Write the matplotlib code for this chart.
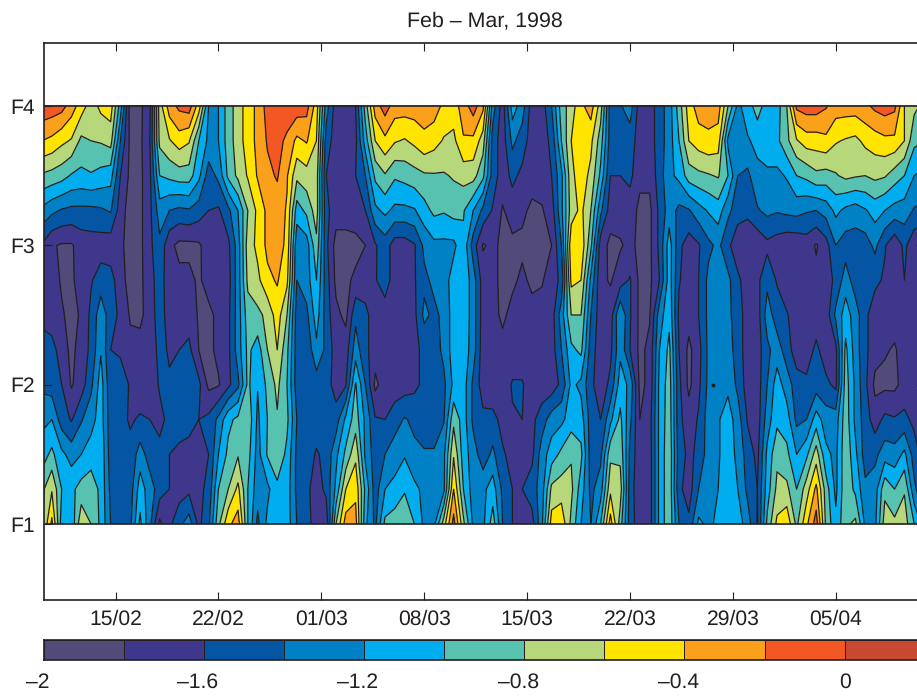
import numpy as np
import matplotlib
matplotlib.use("Agg")
import matplotlib.pyplot as plt

plt.rcParams['font.family'] = ['Liberation Sans', 'DejaVu Sans']
plt.rcParams['text.hinting'] = 'no_hinting'

W, H = 917, 696
INK = '#231f20'

title = 'Feb – Mar, 1998'
# day numbers counted from 1 February; one column every two thirds of a day
days = 10 + np.arange(91) * 2 / 3
levels_f = [1, 1.25, 1.5, 1.75, 2, 2.25, 2.5, 2.75, 3, 3.25, 3.5, 3.75, 4]
x_tick_days = [15, 22, 29, 36, 43, 50, 57, 64]
x_tick_labels = ['15/02', '22/02', '01/03', '08/03', '15/03', '22/03', '29/03', '05/04']
y_ticks = [1, 2, 3, 4]
y_tick_labels = ['F1', 'F2', 'F3', 'F4']
levels = [-2, -1.8, -1.6, -1.4, -1.2, -1, -0.8, -0.6, -0.4, -0.2, 0, 0.2]
bar_ticks = [-2, -1.6, -1.2, -0.8, -0.4, 0]
bar_labels = ['–2', '–1.6', '–1.2', '–0.8', '–0.4', '0']
colors = ['#524a79', '#3e378b', '#0455a4', '#0081c6', '#00aeef', '#57c2b0',
          '#b7d77b', '#ffe400', '#faa01a', '#f35822', '#c84930']

row_f400 = [-0.05,-0.08,-0.12,-0.3,-0.5,-0.7,-0.55,-0.5,-1.1,-1.9,
 -1.85,-1.65,-0.7,-0.3,-0.15,-0.1,-0.5,-1.2,-1.2,-0.9,
 -0.7,-0.5,-0.35,-0.12,-0.08,-0.05,-0.08,-0.12,-0.5,-1.3,
 -1.7,-1.7,-1.6,-0.9,-0.3,-0.1,-0.3,-0.3,-0.3,-0.3,
 -0.3,-0.45,-0.5,-0.3,-0.1,-0.35,-1.3,-1.7,-1.1,-1.3,
 -1.7,-1.7,-1.4,-0.9,-0.7,-0.45,-0.3,-0.7,-1.5,-1.42,
 -1.3,-1.7,-1.7,-1.5,-1.3,-0.9,-0.5,-0.3,-0.3,-0.3,
 -0.8,-1.25,-1.1,-0.9,-1.1,-1.1,-0.8,-0.15,-0.1,-0.1,
 -0.18,-0.3,-0.3,-0.3,-0.25,-0.15,-0.1,-0.15,-0.6,-0.75,-0.85]
row_f375 = [-0.4,-0.45,-0.55,-0.62,-0.85,-0.8,-0.78,-0.72,-1.4,-1.85,
 -1.85,-1.6,-0.75,-0.62,-0.5,-0.58,-1.0,-1.25,-1.2,-0.9,
 -0.7,-0.5,-0.35,-0.18,-0.12,-0.25,-0.45,-0.38,-0.6,-1.5,
 -1.7,-1.7,-1.65,-1.1,-0.6,-0.45,-0.58,-0.62,-0.55,-0.45,
 -0.52,-0.62,-0.65,-0.42,-0.45,-0.7,-1.5,-1.7,-1.35,-1.5,
 -1.7,-1.7,-1.55,-1.0,-0.6,-0.42,-0.55,-0.9,-1.5,-1.55,
 -1.5,-1.7,-1.7,-1.5,-1.3,-1.0,-0.6,-0.5,-0.45,-0.5,
 -1.25,-1.25,-1.22,-1.15,-1.05,-1.05,-0.85,-0.62,-0.5,-0.5,
 -0.45,-0.58,-0.62,-0.65,-0.55,-0.5,-0.45,-0.45,-0.6,-0.95,-1.0]
row_f350 = [-0.83,-0.87,-0.92,-1.02,-1.05,-1.02,-1.07,-1.12,-1.6,-1.85,
 -1.85,-1.65,-1.0,-0.95,-0.9,-0.9,-1.15,-1.5,-1.35,-0.95,
 -0.75,-0.58,-0.38,-0.25,-0.18,-0.38,-0.75,-0.68,-0.7,-1.6,
 -1.7,-1.7,-1.6,-1.4,-0.95,-0.82,-0.97,-0.93,-0.88,-0.83,
 -0.82,-0.82,-0.78,-0.72,-0.72,-0.95,-1.5,-1.7,-1.55,-1.65,
 -1.7,-1.7,-1.6,-1.25,-0.65,-0.5,-0.65,-1.05,-1.6,-1.6,
 -1.55,-1.75,-1.75,-1.5,-1.25,-1.15,-0.9,-0.85,-0.82,-0.78,
 -1.0,-1.4,-1.45,-1.25,-1.25,-1.25,-1.18,-1.0,-0.95,-0.85,
 -0.88,-0.82,-0.75,-0.78,-0.8,-0.75,-0.78,-0.9,-1.0,-1.2,-1.25]
row_f325 = [-1.25,-1.35,-1.42,-1.45,-1.45,-1.45,-1.43,-1.38,-1.7,-1.9,
 -1.85,-1.65,-1.3,-1.4,-1.45,-1.42,-1.5,-1.6,-1.63,-1.45,
 -1.2,-0.8,-0.55,-0.35,-0.3,-0.42,-1.1,-0.95,-0.7,-1.55,
 -1.7,-1.7,-1.65,-1.6,-1.25,-1.15,-1.25,-1.25,-1.22,-1.08,
 -0.95,-0.98,-0.92,-0.98,-1.2,-1.45,-1.62,-1.82,-1.7,-1.75,
 -1.85,-1.82,-1.7,-1.25,-0.7,-0.55,-0.8,-1.35,-1.7,-1.72,
 -1.7,-1.85,-1.85,-1.55,-1.3,-1.45,-1.42,-1.28,-1.18,-1.1,
 -1.35,-1.5,-1.55,-1.42,-1.35,-1.38,-1.35,-1.33,-1.38,-1.4,
 -1.32,-1.15,-1.25,-1.3,-1.22,-1.12,-1.2,-1.28,-1.3,-1.42,-1.45]
row_f300 = [-1.62,-1.78,-1.82,-1.82,-1.72,-1.7,-1.7,-1.72,-1.75,-1.9,
 -1.85,-1.65,-1.45,-1.75,-1.85,-1.85,-1.83,-1.7,-1.75,-1.65,
 -1.3,-0.7,-0.55,-0.35,-0.3,-0.45,-1.35,-1.3,-0.85,-1.55,
 -1.88,-1.88,-1.88,-1.8,-1.62,-1.5,-1.7,-1.7,-1.62,-1.35,
 -1.25,-1.25,-1.25,-1.05,-1.5,-1.82,-1.75,-1.85,-1.85,-1.85,
 -1.88,-1.88,-1.8,-1.4,-0.45,-0.45,-0.95,-1.7,-1.85,-1.82,
 -1.75,-1.85,-1.85,-1.55,-1.1,-1.55,-1.7,-1.62,-1.45,-1.35,
 -1.55,-1.75,-1.75,-1.75,-1.65,-1.7,-1.75,-1.75,-1.7,-1.82,
 -1.68,-1.4,-1.5,-1.5,-1.5,-1.35,-1.58,-1.75,-1.55,-1.75,-1.8]
row_f275 = [-1.7,-1.72,-1.82,-1.82,-1.75,-1.62,-1.5,-1.52,-1.72,-1.88,
 -1.85,-1.68,-1.5,-1.72,-1.75,-1.75,-1.83,-1.72,-1.78,-1.68,
 -1.3,-0.75,-0.65,-0.45,-0.38,-0.55,-1.4,-1.3,-1.0,-1.5,
 -1.85,-1.85,-1.75,-1.7,-1.62,-1.48,-1.72,-1.72,-1.62,-1.45,
 -1.35,-1.3,-1.1,-1.05,-1.3,-1.7,-1.75,-1.85,-1.85,-1.75,
 -1.85,-1.82,-1.7,-1.55,-0.55,-0.6,-1.25,-1.75,-1.82,-1.7,
 -1.58,-1.85,-1.85,-1.6,-1.1,-1.58,-1.72,-1.6,-1.35,-1.3,
 -1.35,-1.55,-1.72,-1.65,-1.45,-1.62,-1.75,-1.75,-1.75,-1.75,
 -1.7,-1.55,-1.3,-1.5,-1.55,-1.55,-1.63,-1.7,-1.6,-1.7,-1.7]
row_f250 = [-1.65,-1.72,-1.78,-1.85,-1.78,-1.55,-1.28,-1.5,-1.65,-1.82,
 -1.85,-1.7,-1.5,-1.7,-1.7,-1.7,-1.82,-1.85,-1.75,-1.65,
 -1.3,-0.9,-0.85,-0.75,-0.5,-0.8,-1.5,-1.45,-1.1,-1.5,
 -1.75,-1.85,-1.45,-1.55,-1.7,-1.72,-1.72,-1.72,-1.65,-1.35,
 -1.45,-1.35,-1.1,-1.05,-1.3,-1.7,-1.72,-1.85,-1.72,-1.72,
 -1.72,-1.72,-1.7,-1.3,-0.8,-0.8,-1.4,-1.72,-1.7,-1.2,
 -1.58,-1.85,-1.82,-1.3,-1.05,-1.65,-1.72,-1.6,-1.35,-1.3,
 -1.35,-1.5,-1.7,-1.7,-1.3,-1.5,-1.58,-1.72,-1.72,-1.72,
 -1.72,-1.35,-1.1,-1.3,-1.55,-1.72,-1.8,-1.72,-1.72,-1.72,-1.7]
row_f225 = [-1.52,-1.52,-1.7,-1.85,-1.72,-1.55,-1.22,-1.6,-1.63,-1.75,
 -1.72,-1.7,-1.55,-1.62,-1.6,-1.55,-1.8,-1.85,-1.75,-1.65,
 -1.3,-0.95,-1.1,-0.8,-0.6,-0.95,-1.5,-1.55,-1.25,-1.45,
 -1.7,-1.7,-1.3,-1.55,-1.7,-1.72,-1.72,-1.72,-1.65,-1.55,
 -1.5,-1.35,-1.1,-1.08,-1.3,-1.72,-1.72,-1.72,-1.72,-1.72,
 -1.72,-1.72,-1.7,-1.4,-1.05,-0.95,-1.5,-1.72,-1.65,-1.25,
 -1.6,-1.85,-1.75,-1.2,-0.95,-1.6,-1.85,-1.68,-1.35,-1.3,
 -1.3,-1.5,-1.7,-1.7,-1.45,-1.3,-1.5,-1.72,-1.72,-1.55,
 -1.72,-1.65,-0.95,-1.3,-1.55,-1.72,-1.78,-1.82,-1.72,-1.72,-1.7]
row_f200 = [-1.45,-1.5,-1.6,-1.82,-1.7,-1.45,-1.1,-1.55,-1.5,-1.62,
 -1.7,-1.72,-1.58,-1.58,-1.52,-1.5,-1.55,-1.85,-1.82,-1.65,
 -1.45,-0.95,-1.19,-0.95,-0.75,-1.0,-1.5,-1.5,-1.5,-1.5,
 -1.7,-1.62,-0.98,-1.4,-1.85,-1.7,-1.7,-1.7,-1.65,-1.55,
 -1.58,-1.45,-1.15,-1.1,-1.45,-1.7,-1.72,-1.72,-1.58,-1.58,
 -1.72,-1.72,-1.72,-1.55,-1.15,-1.25,-1.55,-1.72,-1.55,-1.1,
 -1.25,-1.85,-1.75,-1.15,-0.9,-1.55,-1.85,-1.65,-1.35,-1.3,
 -1.25,-1.45,-1.7,-1.7,-1.4,-1.1,-1.3,-1.5,-1.55,-1.5,
 -1.55,-1.65,-0.9,-1.25,-1.55,-1.85,-1.85,-1.85,-1.72,-1.72,-1.75]
row_f175 = [-1.25,-1.2,-1.5,-1.62,-1.42,-1.28,-1.1,-1.52,-1.55,-1.62,
 -1.58,-1.6,-1.65,-1.55,-1.5,-1.5,-1.6,-1.55,-1.35,-1.05,
 -0.95,-0.85,-1.24,-1.0,-0.82,-0.95,-1.4,-1.5,-1.5,-1.5,
 -1.5,-1.15,-0.9,-1.25,-1.58,-1.6,-1.5,-1.38,-1.45,-1.5,
 -1.5,-1.42,-0.85,-1.1,-1.45,-1.55,-1.55,-1.65,-1.62,-1.6,
 -1.65,-1.5,-1.3,-1.25,-1.1,-1.1,-1.5,-1.6,-1.25,-0.95,
 -1.35,-1.8,-1.68,-1.15,-0.88,-1.55,-1.7,-1.58,-1.3,-1.22,
 -1.1,-1.3,-1.62,-1.7,-1.3,-1.05,-1.1,-1.45,-1.4,-1.1,
 -1.3,-1.3,-0.88,-1.25,-1.5,-1.7,-1.55,-1.58,-1.55,-1.65,-1.7]
row_f150 = [-1.1,-0.95,-1.15,-1.28,-1.2,-1.1,-1.05,-1.5,-1.5,-1.55,
 -1.3,-1.5,-1.55,-1.6,-1.65,-1.7,-1.75,-1.6,-1.2,-0.95,
 -0.82,-0.92,-1.28,-0.98,-0.85,-1.05,-1.45,-1.5,-1.62,-1.55,
 -1.25,-0.95,-0.65,-1.25,-1.5,-1.4,-1.28,-1.22,-1.35,-1.38,
 -1.38,-1.25,-0.62,-1.1,-1.3,-1.52,-1.35,-1.58,-1.65,-1.65,
 -1.65,-1.3,-1.1,-0.95,-0.82,-0.95,-1.5,-1.45,-0.85,-0.85,
 -1.45,-1.75,-1.7,-1.15,-0.85,-1.5,-1.65,-1.55,-1.3,-1.22,
 -1.1,-1.25,-1.5,-1.65,-1.15,-0.85,-0.95,-1.2,-1.05,-0.7,
 -1.15,-1.25,-0.85,-1.15,-1.5,-1.45,-1.3,-1.32,-1.15,-1.5,-1.7]
row_f125 = [-0.85,-0.62,-1.0,-1.05,-0.92,-0.88,-1.05,-1.45,-1.5,-1.5,
 -1.1,-1.3,-1.5,-1.6,-1.7,-1.65,-1.65,-1.55,-1.0,-0.8,
 -0.55,-1.0,-1.32,-1.25,-1.05,-1.1,-1.45,-1.55,-1.7,-1.55,
 -1.15,-0.6,-0.45,-1.05,-1.5,-1.2,-1.15,-1.02,-1.15,-1.25,
 -1.3,-1.25,-0.4,-1.0,-1.3,-1.25,-1.1,-1.45,-1.6,-1.6,
 -1.5,-1.3,-0.75,-0.7,-0.75,-1.1,-1.45,-1.3,-0.65,-0.7,
 -1.5,-1.75,-1.7,-1.15,-0.85,-1.55,-1.7,-1.4,-1.25,-1.2,
 -1.08,-1.2,-1.45,-1.6,-1.1,-0.75,-0.75,-1.0,-0.7,-0.35,
 -0.9,-1.25,-0.85,-1.05,-1.35,-1.3,-0.85,-1.0,-0.82,-1.35,-1.6]
row_f100 = [-0.85,-0.35,-1.1,-1.15,-0.65,-0.8,-1.05,-1.4,-1.5,-1.45,
 -0.95,-1.35,-1.85,-1.65,-1.45,-1.3,-1.65,-1.45,-0.85,-0.45,
 -0.3,-1.0,-1.45,-1.15,-1.1,-1.1,-1.4,-1.52,-1.7,-1.75,
 -0.8,-0.3,-0.32,-1.15,-1.45,-0.95,-0.88,-0.85,-1.0,-1.25,
 -1.25,-0.7,-0.12,-0.75,-1.25,-1.25,-0.9,-1.4,-1.6,-1.6,
 -1.68,-1.25,-0.5,-0.45,-0.85,-1.2,-1.4,-1.0,-0.3,-0.9,
 -1.5,-1.72,-1.7,-1.15,-0.85,-1.4,-1.55,-1.15,-1.25,-1.15,
 -1.08,-1.1,-1.3,-1.62,-0.95,-0.55,-0.45,-0.85,-0.45,-0.1,
 -0.85,-1.15,-0.85,-0.75,-1.25,-1.25,-0.7,-0.75,-0.7,-1.0,-1.3]

dot_day, dot_f = 55.65, 2

grid = np.array([row_f100, row_f125, row_f150, row_f175, row_f200, row_f225, row_f250,
                 row_f275, row_f300, row_f325, row_f350, row_f375, row_f400])

fig = plt.figure(figsize=(W / 100, H / 100), dpi=100)
fig.patch.set_facecolor('white')

def axes_px(x0, y0, x1, y1):
    return fig.add_axes([x0 / W, 1 - y1 / H, (x1 - x0) / W, (y1 - y0) / H])

ax = axes_px(43.5, 43, 924, 600)
ax.contourf(days, levels_f, grid, levels=levels, colors=colors, extend='neither')
ax.contour(days, levels_f, grid, levels=levels, colors=INK, linewidths=0.9, linestyles='solid')
ax.axhline(1, color=INK, lw=1.2)
ax.axhline(4, color=INK, lw=1.2)
ax.plot([dot_day], [dot_f], 'o', ms=1.8, color=INK)
ax.set_xlim(10.1, 70)
ax.set_ylim(0.4545, 4.452)
ax.set_xticks(x_tick_days, x_tick_labels)
ax.set_yticks(y_ticks, y_tick_labels)
ax.tick_params(axis='both', direction='in', length=5.5, width=0.8, color=INK,
               labelcolor=INK, labelsize=15.2, top=True, right=True)
ax.tick_params(axis='x', pad=7)
ax.tick_params(axis='y', pad=6)
for s in ax.spines.values():
    s.set_linewidth(1.2)
    s.set_color(INK)
fig.text(485 / W, 1 - 20.5 / H, title, ha='center', va='center', fontsize=15.4, color=INK)

cax = axes_px(43.5, 640, 924.8, 660)
cax.pcolormesh(levels, [0, 1], np.arange(11).reshape(1, -1), cmap=matplotlib.colors.ListedColormap(colors),
               vmin=-0.5, vmax=10.5, edgecolors=INK, linewidth=0.7)
cax.set_xlim(-2, 0.2)
cax.set_ylim(0, 1)
cax.set_yticks([])
cax.set_xticks([])
for s in cax.spines.values():
    s.set_linewidth(1.2)
    s.set_color(INK)
for v, lab in zip(bar_ticks, bar_labels):
    dx = 0 if v == 0 else -4.3
    cax.annotate(lab, xy=(v, 0), xycoords=('data', 'axes fraction'), xytext=(dx, -16),
                 textcoords='offset points', ha='center', va='center', fontsize=15.2,
                 color=INK, annotation_clip=False)

fig.savefig('out.png', dpi=100)
